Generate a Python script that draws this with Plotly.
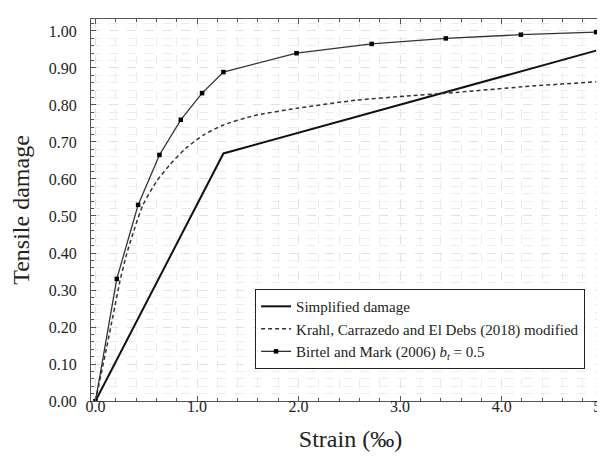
import plotly.graph_objects as go

# Simplified damage (bilinear)
simp_x = [0.0, 1.26, 4.93]
simp_y = [0.0, 0.669, 0.947]

# Krahl, Carrazedo and El Debs (2018) modified
krahl_x = [0.0, 0.11, 0.174, 0.24, 0.305, 0.386, 0.468, 0.60, 0.73, 0.89, 1.07,
           1.26, 1.56, 1.98, 2.57, 3.06, 3.55, 4.2, 4.93]
krahl_y = [0.0, 0.145, 0.232, 0.323, 0.395, 0.467, 0.53, 0.593, 0.638, 0.683, 0.72,
           0.746, 0.771, 0.791, 0.813, 0.824, 0.834, 0.849, 0.863]

# Birtel and Mark (2006), b_t = 0.5
birtel_x = [0.0, 0.21, 0.42, 0.63, 0.84, 1.05, 1.26, 1.98, 2.72, 3.45, 4.19, 4.93]
birtel_y = [0.0, 0.33, 0.53, 0.665, 0.76, 0.832, 0.889, 0.94, 0.965, 0.980, 0.990, 0.997]

FONT = "'Liberation Serif', 'DejaVu Serif', serif"

fig = go.Figure()
fig.add_trace(go.Scatter(x=simp_x, y=simp_y, mode="lines", name="Simplified damage",
                         line=dict(color="#111111", width=2.0)))
fig.add_trace(go.Scatter(x=krahl_x, y=krahl_y, mode="lines",
                         name="Krahl, Carrazedo and El Debs (2018) modified",
                         line=dict(color="#333333", width=1.5, dash="4px,3px", shape="spline", smoothing=0.6)))
fig.add_trace(go.Scatter(x=birtel_x, y=birtel_y, mode="lines+markers",
                         name="Birtel and Mark (2006) <i>b</i><sub><i>t</i></sub> = 0.5",
                         line=dict(color="#333333", width=1.3),
                         marker=dict(symbol="square", size=4.5, color="#000000")))

axis_common = dict(
    showline=True, linecolor="#555555", linewidth=1.3, mirror="ticks",
    ticks="inside", tickcolor="#555555", ticklen=5, tickwidth=1,
    showgrid=True, gridcolor="#e2e2e2", griddash="dash", gridwidth=1,
    zeroline=False,
    tickfont=dict(family=FONT, size=16, color="#222222"),
)

fig.update_xaxes(**axis_common, range=[-0.044, 5.067], dtick=1.0, tick0=0, tickformat=".1f",
                 ticklabeloverflow="allow", ticklabelstandoff=-9,
                 minor=dict(dtick=0.2, ticks="inside", ticklen=3, tickcolor="#555555",
                            showgrid=True, gridcolor="#ececec", griddash="dash"),
                 title=dict(text="Strain (‰)", font=dict(family=FONT, size=24, color="#222222"), standoff=15))
fig.update_yaxes(**axis_common, range=[0, 1.0324], dtick=0.1, tick0=0, tickformat=".2f",
                 ticklabelstandoff=10,
                 minor=dict(dtick=0.02, ticks="inside", ticklen=3, tickcolor="#555555",
                            showgrid=True, gridcolor="#ececec", griddash="dash"),
                 title=dict(text="Tensile damage", font=dict(family=FONT, size=24, color="#222222"), standoff=13))

fig.update_layout(
    width=605, height=456,
    margin=dict(l=83, r=0, t=11, b=63),
    paper_bgcolor="white", plot_bgcolor="white",
    showlegend=True,
    legend=dict(x=0.952, y=0.293, xanchor="right", yanchor="top",
                bgcolor="white", bordercolor="#222222", borderwidth=1,
                font=dict(family=FONT, size=15, color="#222222"),
                tracegroupgap=0, itemwidth=30),
)

fig.write_html("out.html")
